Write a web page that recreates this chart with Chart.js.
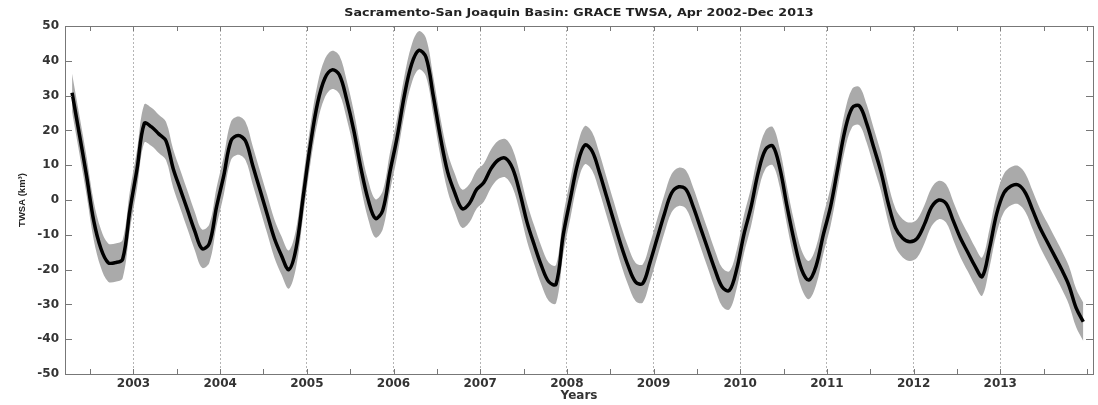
<!DOCTYPE html>
<html>
<head>
<meta charset="utf-8">
<script src="https://cdn.jsdelivr.net/npm/chart.js@4/dist/chart.umd.min.js"></script>
<style>
html, body { margin: 0; padding: 0; background: #fff; }
#wrap { width: 1098px; height: 405px; }
</style>
</head>
<body>
<div id="wrap"><canvas id="grafico"></canvas></div>
<script>
// serie mensal, Apr 2002 - Dec 2013 (km3)
const anoInicio = 2002;
const mesInicio = 4;
const twsa = [
    30.8, 19, 7, -6, -14, -18, -18, -17, -3,                    // 2002
    9, 22, 21, 19, 17, 9, 3, -3, -9, -14, -12.5, -2,           // 2003
    7, 17, 18.5, 17, 10, 3, -4, -11, -16, -20, -14, 1,         // 2004
    16, 28, 35, 37.4, 36, 29, 20, 9, 0, -5.3, -3, 8,           // 2005
    18, 30, 39, 43, 41, 30, 18, 8, 2, -2.5, -1, 3,             // 2006
    5, 9, 11.5, 12, 9, 2, -6.5, -13, -19, -23.5, -24.2, -10,   // 2007
    0.5, 10.5, 15.8, 14, 8, 1, -6, -13, -19, -23.5, -24, -18,  // 2008
    -11, -4, 2, 3.8, 3, -2, -8, -14, -20, -25, -26, -20,       // 2009
    -10, -2, 8, 14.5, 15.5, 9, -2, -12, -20, -23, -19, -10,    // 2010
    -2, 9, 20, 26.5, 27, 22, 15, 8, -1, -8, -11, -12,          // 2011
    -11, -7, -2, 0, -1, -6, -11, -15, -19, -22, -14, -4,       // 2012
    2, 4, 4.3, 2, -3, -8, -12, -16, -20, -24.5, -31, -35       // 2013
];
const erro = 5.5;
const anosTicks = [2003, 2004, 2005, 2006, 2007, 2008, 2009, 2010, 2011, 2012, 2013];
const yTicks = [-50, -40, -30, -20, -10, 0, 10, 20, 30, 40, 50];
const titulo = 'Sacramento-San Joaquin Basin: GRACE TWSA, Apr 2002-Dec 2013';

function tempo(i) {
    return anoInicio + (mesInicio - 1 + i + 0.5) / 12;
}

const linha = twsa.map((v, i) => ({ x: tempo(i), y: v }));
const superior = twsa.map((v, i) => ({ x: tempo(i), y: v + erro }));
const inferior = twsa.map((v, i) => ({ x: tempo(i), y: v - erro }));

const fonteTicks = { family: 'DejaVu Sans', size: 12, weight: 'bold' };

// moldura estilo matlab: caixa, ticks para dentro e titulo
const moldura = {
    id: 'moldura',
    afterDraw(chart) {
        const ctx = chart.ctx;
        const a = chart.chartArea;
        const sx = chart.scales.x;
        const sy = chart.scales.y;
        ctx.save();
        ctx.strokeStyle = '#777';
        ctx.lineWidth = 1;
        ctx.strokeRect(a.left + 0.5, a.top + 0.5, a.right - a.left, a.bottom - a.top);

        ctx.beginPath();
        yTicks.forEach((v) => {
            const py = Math.round(sy.getPixelForValue(v)) + 0.5;
            ctx.moveTo(a.left, py); ctx.lineTo(a.left + 7, py);
            ctx.moveTo(a.right, py); ctx.lineTo(a.right - 7, py);
        });
        for (let t = 2002.5; t < 2014.07; t += 0.5) {
            const px = Math.round(sx.getPixelForValue(t)) + 0.5;
            ctx.moveTo(px, a.bottom); ctx.lineTo(px, a.bottom - 5);
            ctx.moveTo(px, a.top); ctx.lineTo(px, a.top + 5);
        }
        ctx.stroke();

        ctx.fillStyle = '#222';
        ctx.font = 'bold 10.5px "DejaVu Sans"';
        ctx.textAlign = 'center';
        ctx.textBaseline = 'middle';
        ctx.translate((a.left + a.right) / 2, 13);
        ctx.scale(1.21, 1);
        ctx.fillText(titulo, 0, 0);
        ctx.restore();
    }
};

new Chart(document.getElementById('grafico'), {
    type: 'line',
    data: {
        datasets: [
            {
                label: 'TWSA',
                data: linha,
                borderColor: '#000',
                borderWidth: 3.5,
                pointRadius: 0,
                tension: 0.35,
                fill: false,
                order: 0
            },
            {
                label: 'sup',
                data: superior,
                borderWidth: 0,
                borderColor: 'rgba(0,0,0,0)',
                backgroundColor: '#aaaaaa',
                pointRadius: 0,
                tension: 0.35,
                fill: '+1',
                order: 1
            },
            {
                label: 'inf',
                data: inferior,
                borderWidth: 0,
                borderColor: 'rgba(0,0,0,0)',
                pointRadius: 0,
                tension: 0.35,
                fill: false,
                order: 2
            }
        ]
    },
    options: {
        animation: false,
        responsive: true,
        maintainAspectRatio: false,
        layout: { padding: { left: 0, right: 5, top: 26, bottom: 0 } },
        plugins: {
            legend: { display: false },
            tooltip: { enabled: false },
            title: { display: false }
        },
        scales: {
            x: {
                type: 'linear',
                min: 2002.21,
                max: 2014.07,
                afterBuildTicks: (s) => { s.ticks = anosTicks.map((v) => ({ value: v })); },
                afterFit: (s) => { s.height = 31; },
                ticks: {
                    font: fonteTicks,
                    color: '#333',
                    padding: 3,
                    maxRotation: 0,
                    autoSkip: false,
                    callback: (v) => String(v)
                },
                grid: {
                    drawTicks: false,
                    color: '#b5b5b5',
                    lineWidth: 1
                },
                border: { display: false, dash: [2, 2] },
                title: {
                    display: true,
                    text: 'Years',
                    font: fonteTicks,
                    color: '#333',
                    padding: { top: 0, bottom: 2 }
                }
            },
            y: {
                min: -50,
                max: 50,
                afterBuildTicks: (s) => { s.ticks = yTicks.map((v) => ({ value: v })); },
                afterFit: (s) => { s.width = 65; },
                ticks: {
                    font: fonteTicks,
                    color: '#333',
                    padding: 6,
                    callback: (v) => String(v)
                },
                grid: { display: false, drawTicks: false },
                border: { display: false },
                title: {
                    display: true,
                    text: 'TWSA (km³)',
                    font: { family: 'Liberation Sans', size: 9.5, weight: 'bold' },
                    color: '#222',
                    padding: { top: 17, bottom: 0 }
                }
            }
        }
    },
    plugins: [moldura]
});
</script>
</body>
</html>
